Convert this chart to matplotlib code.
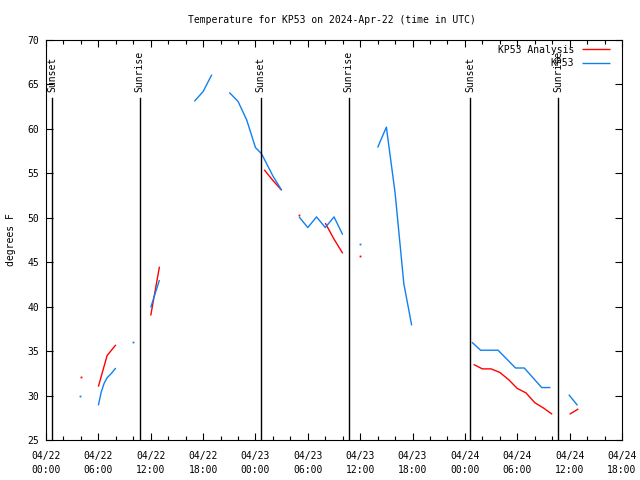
import numpy as np
import matplotlib
matplotlib.use("Agg")
import matplotlib.pyplot as plt
from matplotlib.ticker import MultipleLocator

nan = np.nan

# Hours since 2024-04-22 00:00 UTC
analysis_hours = [4, 5, 6, 7, 8, 9, 12, 13, 14, 25, 26, 27, 28, 29, 30, 32, 33, 34, 35, 36, 37,
                  49, 50, 51, 52, 53, 54, 55, 56, 57, 58, 59, 60, 61]
analysis_temp = [32.1, nan, 31.0, 34.5, 35.7, nan, 39.0, 44.5, nan, 55.4, 54.2, 53.1, nan, 50.3, nan,
                 49.4, 47.6, 46.0, nan, 45.7, nan,
                 33.5, 33.0, 33.0, 32.6, 31.8, 30.8, 30.3, 29.2, 28.6, 27.9, nan, 27.9, 28.5]

obs_hours = [3.9, 5.0, 6.0, 6.33, 6.67, 7.0, 7.5, 8.0, 9.0, 10.0, 11.0, 12.0, 13.0, 15.0,
             17.0, 18.0, 19.0, 20.0, 21.0, 22.0, 23.0, 24.0, 24.7, 26.0, 27.0, 28.0,
             29.0, 30.0, 31.0, 32.0, 33.0, 34.0, 35.0, 36.0, 37.0,
             38.0, 39.0, 40.0, 41.0, 41.9, 45.0,
             48.8, 49.8, 50.8, 51.8, 52.8, 53.8, 54.8, 55.8, 56.8, 57.8, 59.0, 59.9, 60.9]
obs_temp = [30.0, nan, 28.9, 30.4, 31.4, 32.0, 32.5, 33.1, nan, 36.0, nan, 39.9, 43.0, nan,
            63.1, 64.2, 66.1, nan, 64.1, 63.1, 61.0, 57.9, 57.2, 54.7, 53.1, nan,
            50.1, 48.9, 50.1, 48.9, 50.1, 48.1, nan, 47.05, nan,
            57.9, 60.2, 52.8, 42.6, 37.9, nan,
            36.0, 35.1, 35.1, 35.1, 34.1, 33.1, 33.1, 32.0, 30.9, 30.9, nan, 30.1, 28.9]

event_hours = [0.7, 10.75, 24.6, 34.7, 48.6, 58.7]
event_labels = ["Sunset", "Sunrise", "Sunset", "Sunrise", "Sunset", "Sunrise"]

tick_hours = [0, 6, 12, 18, 24, 30, 36, 42, 48, 54, 60, 66]
tick_labels = ["04/22\n00:00", "04/22\n06:00", "04/22\n12:00", "04/22\n18:00",
               "04/23\n00:00", "04/23\n06:00", "04/23\n12:00", "04/23\n18:00",
               "04/24\n00:00", "04/24\n06:00", "04/24\n12:00", "04/24\n18:00"]

FONT = "DejaVu Sans Mono"
FS = 7
RED = "#ff0000"
BLUE = "#1080f0"

fig = plt.figure(figsize=(6.4, 4.8), dpi=100)
ax = fig.add_axes([46 / 640, 40 / 480, 576 / 640, 400 / 480])


def draw_series(hours, temps, color, label):
    h = np.array(hours, dtype=float)
    t = np.array(temps, dtype=float)
    ax.plot(h, t, color=color, lw=1.0, label=label, solid_capstyle="butt")
    # isolated points
    for i in range(len(t)):
        if np.isnan(t[i]):
            continue
        prev_nan = i == 0 or np.isnan(t[i - 1])
        next_nan = i == len(t) - 1 or np.isnan(t[i + 1])
        if prev_nan and next_nan:
            ax.plot([h[i]], [t[i]], marker="s", ms=1.3, color=color, mew=0, ls="none")


draw_series(analysis_hours, analysis_temp, RED, "KP53 Analysis")
draw_series(obs_hours, obs_temp, BLUE, "KP53")

for eh, el in zip(event_hours, event_labels):
    ax.plot([eh, eh], [25, 63.5], color="black", lw=1.0)
    ax.text(eh, 64.1, el, rotation=90, ha="center", va="bottom",
            fontsize=FS, family=FONT)

ax.set_xlim(0, 66)
ax.set_ylim(25, 70)
ax.set_xticks(tick_hours)
ax.set_xticklabels(tick_labels, family=FONT, fontsize=FS, linespacing=1.45)
ax.xaxis.set_minor_locator(MultipleLocator(2))
ax.set_yticks(np.arange(25, 71, 5))
ax.set_yticklabels([str(v) for v in range(25, 71, 5)], family=FONT, fontsize=FS)
ax.tick_params(which="major", direction="in", length=5, width=0.8, top=True, right=True, pad=5)
ax.tick_params(axis="x", which="major", pad=8)
ax.tick_params(which="minor", direction="in", length=3, width=0.8, top=True, right=False, left=False)
for s in ax.spines.values():
    s.set_linewidth(0.8)

ax.set_ylabel("degrees F", family=FONT, fontsize=FS, labelpad=8)
fig.text(332 / 640, 1 - 20 / 480, "Temperature for KP53 on 2024-Apr-22 (time in UTC)",
         ha="center", va="center", family=FONT, fontsize=FS)

leg = ax.legend(loc="upper right", frameon=False, prop={"family": FONT, "size": FS},
                markerfirst=False, handlelength=2.9, handletextpad=0.8,
                borderaxespad=0.0, labelspacing=0.35,
                bbox_to_anchor=(1 - 8 / 576, 1 - 1 / 400))
for t in leg.get_texts():
    t.set_ha("right")
leg._legend_box.align = "right"

fig.savefig("out.png", dpi=100)
